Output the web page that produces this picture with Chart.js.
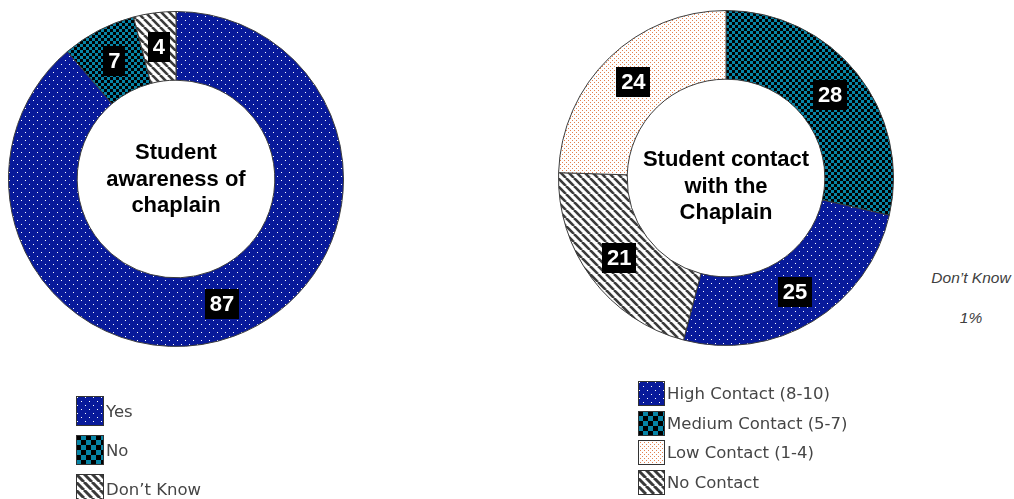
<!DOCTYPE html>
<html>
<head>
<meta charset="utf-8">
<script src="https://cdn.jsdelivr.net/npm/chart.js@4/dist/chart.umd.min.js"></script>
<style>
html,body{margin:0;padding:0;background:#fff;}
body{width:1014px;height:499px;overflow:hidden;position:relative;font-family:"DejaVu Sans",Verdana,sans-serif;}
.wrap{position:absolute;width:336px;height:336px;}
.legend{position:absolute;display:flex;flex-direction:column;}
.item{display:flex;align-items:center;color:#454545;font-size:16.5px;white-space:nowrap;}
.item canvas{display:block;margin-right:2px;}
.note{position:absolute;width:110px;text-align:center;font-family:"Liberation Sans",Arial,sans-serif;font-style:italic;font-size:15.5px;color:#404040;line-height:18px;}
</style>
</head>
<body>
<div class="wrap" style="left:8px;top:11px;"><canvas id="c1" width="336" height="336"></canvas></div>
<div class="wrap" style="left:558px;top:10px;"><canvas id="c2" width="336" height="336"></canvas></div>
<div class="legend" id="leg1" style="left:76px;top:396px;"></div>
<div class="legend" id="leg2" style="left:638px;top:381px;"></div>
<div class="note" id="note1" style="left:916px;top:269px;"></div>
<div class="note" id="note2" style="left:916px;top:309px;"></div>
<script>
// ---------- data ----------
const awarenessCategories = ['Yes', 'No', 'Don\u2019t Know'];
const awarenessValues = [87, 7, 4];
const awarenessTitle = ['Student', 'awareness of', 'chaplain'];

const contactCategories = ['High Contact (8-10)', 'Medium Contact (5-7)', 'Low Contact (1-4)', 'No Contact'];
const contactValues = [25, 28, 24, 21];
const contactDrawOrder = [1, 0, 3, 2]; // clockwise from 12 o'clock
const contactTitle = ['Student contact', 'with the', 'Chaplain'];

const contactDontKnowLabel = 'Don\u2019t Know';
const contactDontKnowValue = 1;

// ---------- patterns ----------
function makeTile(w, h, draw) {
  const c = document.createElement('canvas');
  c.width = w; c.height = h;
  draw(c.getContext('2d'), w, h);
  return c;
}
function bluePattern(ctx) {
  return ctx.createPattern(makeTile(8, 8, (g) => {
    g.fillStyle = '#081a9a'; g.fillRect(0, 0, 8, 8);
    g.fillStyle = '#ffffff'; g.fillRect(1, 1, 1, 1); g.fillRect(5, 5, 1, 1);
  }), 'repeat');
}
function checkPattern(ctx, s) {
  return ctx.createPattern(makeTile(2 * s, 2 * s, (g) => {
    g.fillStyle = '#0784a6'; g.fillRect(0, 0, 2 * s, 2 * s);
    g.fillStyle = '#000'; g.fillRect(0, 0, s, s); g.fillRect(s, s, s, s);
  }), 'repeat');
}
function stripePattern(ctx, p, lw) {
  return ctx.createPattern(makeTile(p, p, (g) => {
    g.fillStyle = '#fff'; g.fillRect(0, 0, p, p);
    g.strokeStyle = '#3a3a3a'; g.lineWidth = lw;
    for (const o of [-p, 0, p]) {
      g.beginPath(); g.moveTo(o, 0); g.lineTo(o + p, p); g.stroke();
    }
  }), 'repeat');
}
function orangePattern(ctx) {
  return ctx.createPattern(makeTile(4, 4, (g) => {
    g.fillStyle = '#fff'; g.fillRect(0, 0, 4, 4);
    g.fillStyle = '#e2804f'; g.fillRect(0, 0, 1, 1); g.fillRect(2, 2, 1, 1);
  }), 'repeat');
}

// ---------- plugin: boxed labels + centre title ----------
const boxLabels = {
  id: 'boxLabels',
  afterDatasetsDraw(chart, args, opts) {
    const ctx = chart.ctx;
    const meta = chart.getDatasetMeta(0);
    const data = chart.data.datasets[0].data;
    ctx.save();
    ctx.font = 'bold 22px "Liberation Sans", Arial, sans-serif';
    ctx.textAlign = 'center';
    ctx.textBaseline = 'middle';
    meta.data.forEach((arc, i) => {
      const p = arc.tooltipPosition();
      const t = String(data[i]);
      const w = Math.round(ctx.measureText(t).width + 10), h = 30;
      ctx.fillStyle = '#000';
      ctx.fillRect(Math.round(p.x - w / 2), Math.round(p.y - h / 2), w, h);
      ctx.fillStyle = '#fff';
      ctx.fillText(t, p.x, p.y + 1);
    });
    const lines = opts.lines || [];
    const cx = (chart.chartArea.left + chart.chartArea.right) / 2;
    const cy = (chart.chartArea.top + chart.chartArea.bottom) / 2;
    ctx.fillStyle = '#000';
    ctx.textBaseline = 'alphabetic';
    const n = lines.length;
    for (let i = 0; i < n; i++) {
      ctx.fillText(lines[i], cx, cy + opts.dy + (i - (n - 1) / 2) * 26.5);
    }
    ctx.restore();
  }
};

function makeDonut(id, labels, values, colors, title, dy) {
  const ctx = document.getElementById(id).getContext('2d');
  return new Chart(ctx, {
    type: 'doughnut',
    data: {
      labels: labels,
      datasets: [{
        data: values,
        backgroundColor: colors,
        borderColor: '#3c3c3c',
        borderWidth: 1,
        hoverOffset: 0
      }]
    },
    options: {
      responsive: false,
      animation: false,
      cutout: '59%',
      layout: { padding: 0 },
      plugins: {
        legend: { display: false },
        tooltip: { enabled: false },
        boxLabels: { lines: title, dy: dy }
      }
    },
    plugins: [boxLabels]
  });
}

const ctx1 = document.getElementById('c1').getContext('2d');
const awarenessColors = [bluePattern(ctx1), checkPattern(ctx1, 3), stripePattern(ctx1, 8, 2.6)];
makeDonut('c1', awarenessCategories, awarenessValues, awarenessColors, awarenessTitle, 6.5);

const ctx2 = document.getElementById('c2').getContext('2d');
const contactColorsByCat = [bluePattern(ctx2), checkPattern(ctx2, 3), orangePattern(ctx2), stripePattern(ctx2, 8, 2.6)];
makeDonut('c2',
  contactDrawOrder.map(i => contactCategories[i]),
  contactDrawOrder.map(i => contactValues[i]),
  contactDrawOrder.map(i => contactColorsByCat[i]),
  contactTitle, 14.5);

// ---------- HTML legends ----------
function swatch(w, h, kind) {
  const c = document.createElement('canvas');
  c.width = w; c.height = h;
  const g = c.getContext('2d');
  let p;
  if (kind === 'blue') p = bluePattern(g);
  else if (kind === 'check') p = checkPattern(g, 5);
  else if (kind === 'orange') p = orangePattern(g);
  else p = stripePattern(g, 8, 3);
  g.fillStyle = p; g.fillRect(0, 0, w, h);
  g.strokeStyle = '#333'; g.lineWidth = 1; g.strokeRect(0.5, 0.5, w - 1, h - 1);
  return c;
}
function buildLegend(elId, labels, kinds, w, h, gap) {
  const el = document.getElementById(elId);
  labels.forEach((lab, i) => {
    const d = document.createElement('div');
    d.className = 'item';
    d.style.height = h + 'px';
    d.style.marginBottom = gap + 'px';
    d.appendChild(swatch(w, h, kinds[i]));
    const s = document.createElement('span');
    s.textContent = lab;
    d.appendChild(s);
    el.appendChild(d);
  });
}
buildLegend('leg1', awarenessCategories, ['blue', 'check', 'stripe'], 28, 30, 9);
buildLegend('leg2', contactCategories, ['blue', 'check', 'orange', 'stripe'], 27, 25, 4.7);

document.getElementById('note1').textContent = contactDontKnowLabel;
document.getElementById('note2').textContent = contactDontKnowValue + '%';
</script>
</body>
</html>
